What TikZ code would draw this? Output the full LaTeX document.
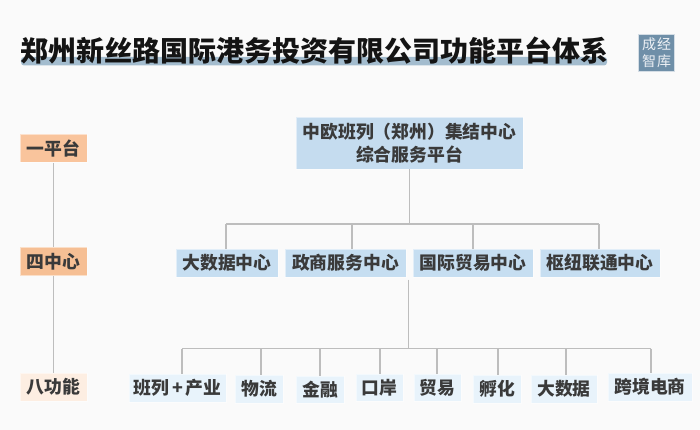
\documentclass[tikz,border=0pt]{standalone}
\usepackage{fontspec}
\setmainfont{Noto Sans CJK SC}
\definecolor{bgc}{HTML}{FAFAFA}
\definecolor{barc}{HTML}{A3BCCE}
\definecolor{linec}{HTML}{BDBDBD}
\definecolor{txtc}{HTML}{3A3A3A}
\definecolor{logoc}{HTML}{6F8FA8}
\definecolor{lvA}{HTML}{F9C49C}
\definecolor{lvB}{HTML}{F6BF94}
\definecolor{lvC}{HTML}{FDEEE2}
\definecolor{tierA}{HTML}{C5DCEF}
\definecolor{tierB}{HTML}{C6DEF1}
\definecolor{tierC}{HTML}{E8F3FB}
\tikzset{
  x=1pt,y=-1pt,
  boxbase/.style={draw=white,draw opacity=0.5,line width=0.8pt,inner sep=0pt,text=txtc,align=center,font=\fontsize{17.8}{23}\selectfont\bfseries},
  wire/.style={draw=linec,line width=1.2pt},
  logotxt/.style={text=white!88!logoc,inner sep=0pt,font=\fontsize{14}{14}\selectfont},
}
% fill, name, x0, x1, y0, y1, text
\newcommand{\bx}[7]{\node[boxbase,fill=#1,minimum width=#4pt-#3pt,minimum height=#6pt-#5pt] (#2) at ({(#3+#4)/2},{(#5+#6)/2}) {#7};}
\begin{document}
\begin{tikzpicture}
\useasboundingbox (0,0) rectangle (700,430);
\fill[bgc] (0,0) rectangle (700,430);
% title
\fill[barc,rounded corners=3pt] (21,57) rectangle (607,65.5);
\node[inner sep=0pt,text=black!92,font=\fontsize{28}{30}\selectfont\bfseries] (title) at (314.5,51) {郑州新丝路国际港务投资有限公司功能平台体系};
% logo
\node[draw=white!70!logoc,line width=1.2pt,fill=logoc,minimum width=36pt,minimum height=37pt,inner sep=0pt] (logo) at (656.5,53) {};
\node[logotxt] (lga) at (649,44) {成};
\node[logotxt] (lgb) at (664,44) {经};
\node[logotxt] (lgc) at (649,61) {智};
\node[logotxt] (lgd) at (664,61) {库};
% left column
\bx{lvA}{la}{20}{87}{134}{162.5}{一平台}
\bx{lvB}{lb}{20}{87}{247}{275.5}{四中心}
\bx{lvC}{lc}{20}{87}{373}{401}{八功能}
% platform
\bx{tierA}{top}{296}{523}{117}{169}{中欧班列（郑州）集结中心\\综合服务平台}
% centres
\bx{tierB}{ca}{176}{278}{249}{277}{大数据中心}
\bx{tierB}{cb}{285}{406}{249}{277}{政商服务中心}
\bx{tierB}{cc}{413}{533}{249}{277}{国际贸易中心}
\bx{tierB}{cd}{540}{660}{249}{277}{枢纽联通中心}
% functions
\bx{tierC}{fa}{129}{226}{374}{402}{班列\,+\,产业}
\bx{tierC}{fb}{235}{283}{375}{403}{物流}
\bx{tierC}{fc}{296}{344}{376}{403}{金融}
\bx{tierC}{fd}{356}{403}{374}{401}{口岸}
\bx{tierC}{fe}{414}{461}{374}{401}{贸易}
\bx{tierC}{ff}{473}{521}{375}{403}{孵化}
\bx{tierC}{fg}{531}{597}{375}{403}{大数据}
\bx{tierC}{fh}{608}{692}{373}{401}{跨境电商}
% bus coordinates
\coordinate (busA) at (409.5,224);
\coordinate (busB) at (408.5,348.5);
\coordinate (trunk) at (408.5,279.5);
\coordinate (aL) at (226,224);
\coordinate (aB) at (352,224);
\coordinate (aC) at (473,224);
\coordinate (aR) at (599,224);
\coordinate (bL) at (182,348.5);
\coordinate (bB) at (261,348.5);
\coordinate (bC) at (320,348.5);
\coordinate (bD) at (380,348.5);
\coordinate (bE) at (437,348.5);
\coordinate (bF) at (498,348.5);
\coordinate (bG) at (566,348.5);
\coordinate (bR) at (651,348.5);
% left connectors
\draw[wire] (la.south) -- (lb.north);
\draw[wire] (lb.south) -- (lc.north);
% upper tree
\draw[wire] (top.south -| busA) -- (busA);
\draw[wire] (aL) -- (aR);
\draw[wire] (aL) -- (aL |- ca.north);
\draw[wire] (aB) -- (aB |- cb.north);
\draw[wire] (aC) -- (aC |- cc.north);
\draw[wire] (aR) -- (aR |- cd.north);
% lower tree
\draw[wire] (trunk) -- (busB);
\draw[wire] (bL) -- (bR);
\draw[wire] (bL) -- (bL |- fa.north);
\draw[wire] (bB) -- (bB |- fb.north);
\draw[wire] (bC) -- (bC |- fc.north);
\draw[wire] (bD) -- (bD |- fd.north);
\draw[wire] (bE) -- (bE |- fe.north);
\draw[wire] (bF) -- (bF |- ff.north);
\draw[wire] (bG) -- (bG |- fg.north);
\draw[wire] (bR) -- (bR |- fh.north);
\end{tikzpicture}
\end{document}
